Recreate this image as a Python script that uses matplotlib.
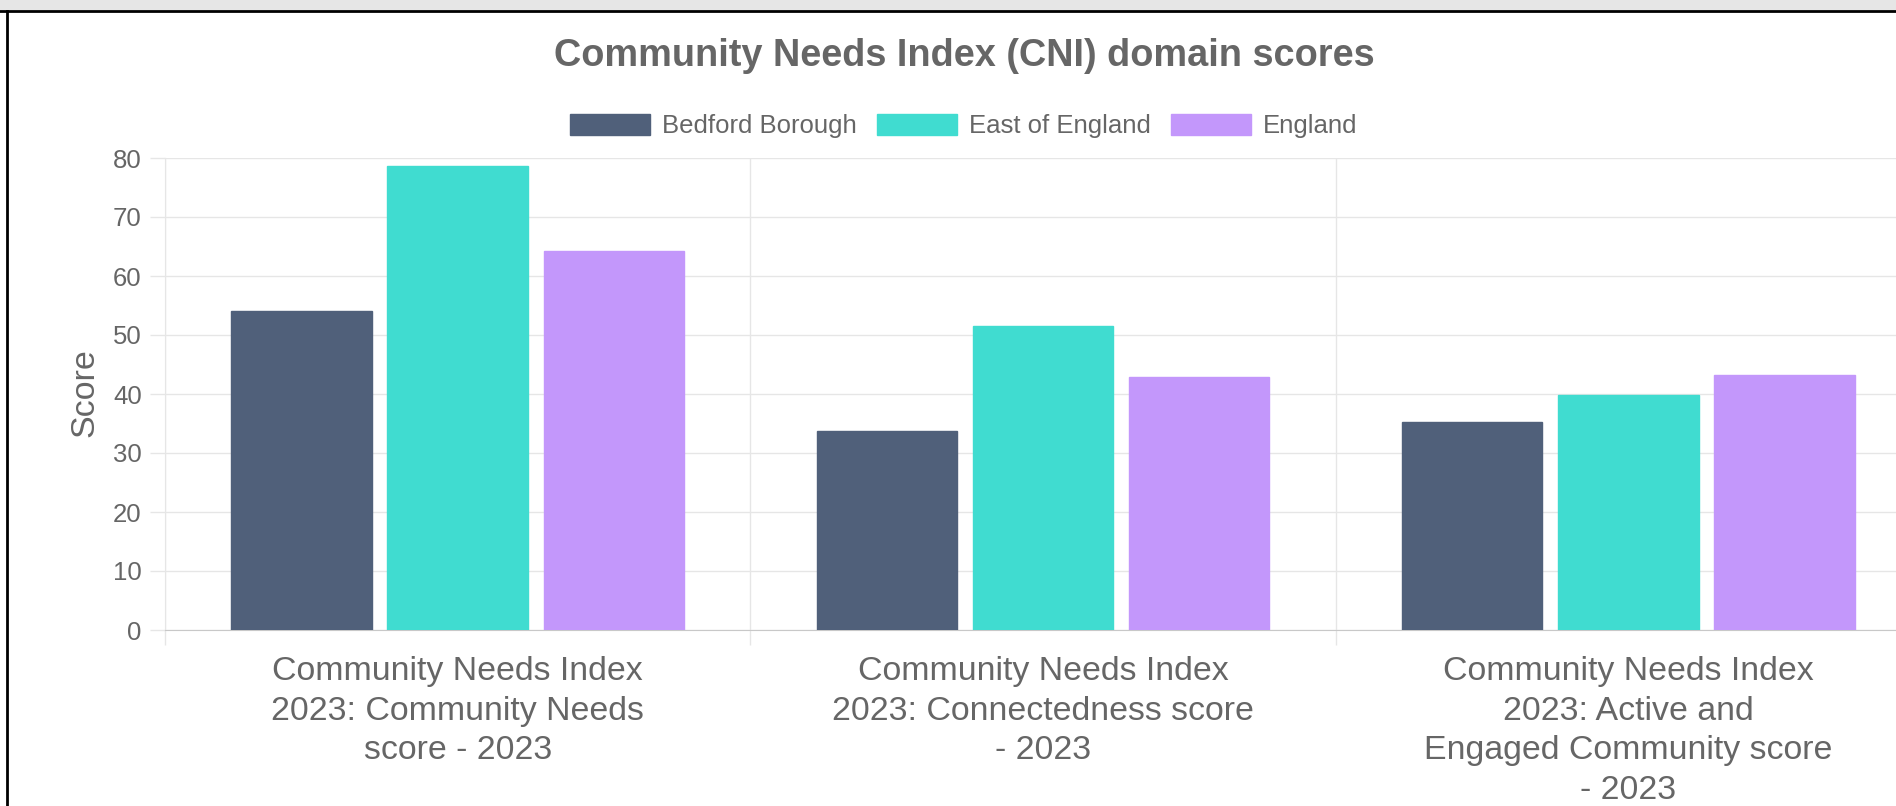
import numpy as np
import matplotlib.pyplot as plt
from matplotlib.patches import Rectangle
from matplotlib.lines import Line2D

# === Daten ===
categories = [
    "Community Needs Index\n2023: Community Needs\nscore - 2023",
    "Community Needs Index\n2023: Connectedness score\n- 2023",
    "Community Needs Index\n2023: Active and\nEngaged Community score\n- 2023",
]
series_names = ["Bedford Borough", "East of England", "England"]
bedford = [54.1, 33.7, 35.2]
east_of_england = [78.7, 51.5, 39.9]
england = [64.2, 42.8, 43.2]
colors = ["#50607a", "#40dcd0", "#c397fb"]
yticks = [0, 10, 20, 30, 40, 50, 60, 70, 80]

plt.rcParams["font.family"] = ["Liberation Sans", "DejaVu Sans"]
TXT = "#666666"
GRID = "#e6e6e6"

W, H = 1896, 806
fig = plt.figure(figsize=(W / 100, H / 100), dpi=100)

# Screenshot-Rand oben / links
fig.add_artist(Rectangle((0, 1 - 10 / H), 1, 10 / H, transform=fig.transFigure,
                         facecolor="#e6e6e6", edgecolor="none"))
fig.add_artist(Line2D([0, 1], [1 - 11 / H, 1 - 11 / H], transform=fig.transFigure,
                      color="black", lw=2))
fig.add_artist(Line2D([7 / W, 7 / W], [0, 1 - 11 / H], transform=fig.transFigure,
                      color="black", lw=2))

# Plotbereich (rechts abgeschnitten wie im Original)
left, right, top, bottom = 165, 1921, 158, 630
ax = fig.add_axes([left / W, (H - bottom) / H, (right - left) / W, (bottom - top) / H])

x = np.arange(len(categories))
slot = 0.8 / 3
bw = 0.24
for i, (vals, name) in enumerate(zip([bedford, east_of_england, england], series_names)):
    ax.bar(x + (i - 1) * slot, vals, width=bw, color=colors[i], label=name,
           edgecolor=colors[i], linewidth=1, zorder=3)

ax.set_xlim(-0.5, len(categories) - 0.5)
ax.set_ylim(0, 80)
ax.set_yticks(yticks)
ax.set_yticklabels([str(v) for v in yticks])

ax.set_xticks(x)
ax.set_xticklabels(categories, fontsize=24.4, color=TXT, linespacing=1.37)
ax.set_xticks(np.arange(len(categories) + 1) - 0.5, minor=True)
ax.tick_params(axis="x", which="major", length=0, pad=18.5)
ax.tick_params(axis="x", which="minor", length=10.8, color=GRID, width=1)
ax.tick_params(axis="y", length=10.8, color=GRID, width=1, pad=6,
               labelsize=18.5, labelcolor=TXT)

ax.grid(axis="y", color=GRID, lw=1, zorder=0)
ax.grid(axis="x", which="minor", color=GRID, lw=1, zorder=0)
for s in ["top", "right"]:
    ax.spines[s].set_visible(False)
ax.spines["left"].set_color(GRID)
ax.spines["bottom"].set_color("#c8c8c8")

fig.text(85 / W, (H - 393) / H, "Score", rotation=90, ha="center", va="center",
         fontsize=24.5, color=TXT)

fig.text(964 / W, (H - 56) / H, "Community Needs Index (CNI) domain scores",
         ha="center", va="center", fontsize=27.3, fontweight="bold", color=TXT)

leg = fig.legend(loc="center", bbox_to_anchor=(964 / W, (H - 126) / H), ncol=3,
                 frameon=False, fontsize=18.5, handlelength=3.1, handleheight=0.86,
                 handletextpad=0.47, columnspacing=0.8)
for t in leg.get_texts():
    t.set_color(TXT)

fig.savefig("out.png", dpi=100)
